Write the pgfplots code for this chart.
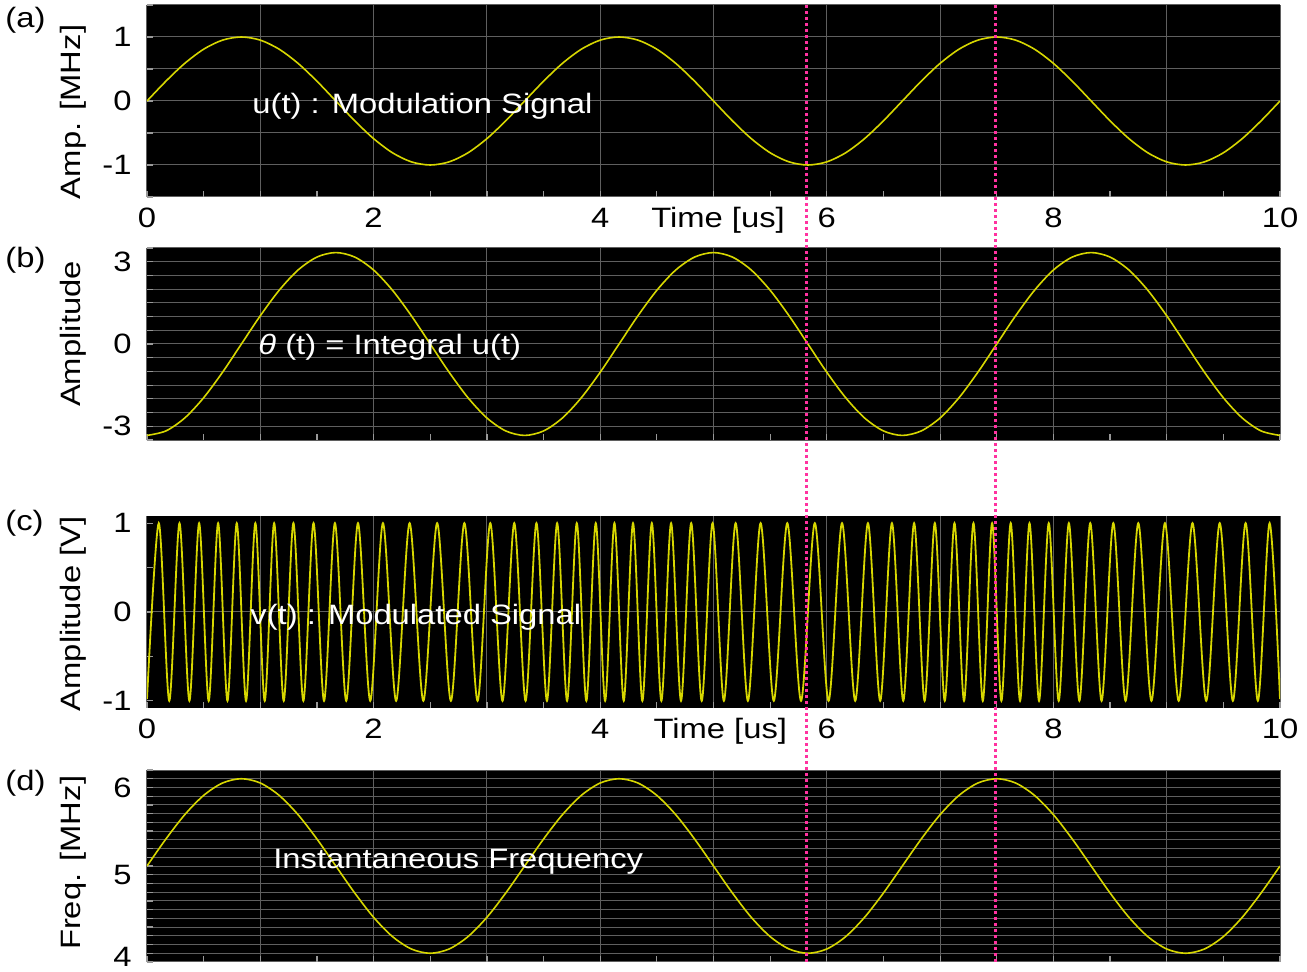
\documentclass[border=0pt]{standalone}
\usepackage{pgfplots}
\pgfplotsset{compat=1.18}
\usepackage{pgfplotstable}
\usepackage{fontspec}
\setmainfont{Liberation Sans}[FakeStretch=1.17]
\definecolor{sig}{RGB}{215,215,0}
\definecolor{gridc}{RGB}{95,95,95}
\definecolor{mag}{RGB}{255,50,160}

\pgfplotstableread{
t u th f
0 0 -3.333 5.1
0.1667 0.309 -3.170 5.409
0.3333 0.588 -2.697 5.688
0.5 0.809 -1.959 5.909
0.6667 0.951 -1.030 6.051
0.8333 1 0 6.1
1 0.951 1.030 6.051
1.1667 0.809 1.959 5.909
1.3333 0.588 2.697 5.688
1.5 0.309 3.170 5.409
1.6667 0 3.333 5.1
1.8333 -0.309 3.170 4.791
2 -0.588 2.697 4.512
2.1667 -0.809 1.959 4.291
2.3333 -0.951 1.030 4.149
2.5 -1 0 4.1
2.6667 -0.951 -1.030 4.149
2.8333 -0.809 -1.959 4.291
3 -0.588 -2.697 4.512
3.1667 -0.309 -3.170 4.791
3.3333 0 -3.333 5.1
3.5 0.309 -3.170 5.409
3.6667 0.588 -2.697 5.688
3.8333 0.809 -1.959 5.909
4 0.951 -1.030 6.051
4.1667 1 0 6.1
4.3333 0.951 1.030 6.051
4.5 0.809 1.959 5.909
4.6667 0.588 2.697 5.688
4.8333 0.309 3.170 5.409
5 0 3.333 5.1
5.1667 -0.309 3.170 4.791
5.3333 -0.588 2.697 4.512
5.5 -0.809 1.959 4.291
5.6667 -0.951 1.030 4.149
5.8333 -1 0 4.1
6 -0.951 -1.030 4.149
6.1667 -0.809 -1.959 4.291
6.3333 -0.588 -2.697 4.512
6.5 -0.309 -3.170 4.791
6.6667 0 -3.333 5.1
6.8333 0.309 -3.170 5.409
7 0.588 -2.697 5.688
7.1667 0.809 -1.959 5.909
7.3333 0.951 -1.030 6.051
7.5 1 0 6.1
7.6667 0.951 1.030 6.051
7.8333 0.809 1.959 5.909
8 0.588 2.697 5.688
8.1667 0.309 3.170 5.409
8.3333 0 3.333 5.1
8.5 -0.309 3.170 4.791
8.6667 -0.588 2.697 4.512
8.8333 -0.809 1.959 4.291
9 -0.951 1.030 4.149
9.1667 -1 0 4.1
9.3333 -0.951 -1.030 4.149
9.5 -0.809 -1.959 4.291
9.6667 -0.588 -2.697 4.512
9.8333 -0.309 -3.170 4.791
10 0 -3.333 5.1
}\slow

\pgfplotstableread{
t v
0 -0.98
0.1040 1
0.1967 -1
0.2867 1
0.3743 -1
0.4601 1
0.5444 -1
0.6277 1
0.7102 -1
0.7923 1
0.8743 -1
0.9564 1
1.0390 -1
1.1223 1
1.2066 -1
1.2924 1
1.3800 -1
1.4699 1
1.5626 -1
1.6586 1
1.7584 -1
1.8622 1
1.9703 -1
2.0826 1
2.1987 -1
2.3179 1
2.4391 -1
2.5610 1
2.6822 -1
2.8013 1
2.9175 -1
3.0298 1
3.1378 -1
3.2416 1
3.3414 -1
3.4373 1
3.5300 -1
3.6200 1
3.7076 -1
3.7934 1
3.8777 -1
3.9610 1
4.0435 -1
4.1256 1
4.2076 -1
4.2897 1
4.3723 -1
4.4556 1
4.5399 -1
4.6257 1
4.7133 -1
4.8032 1
4.8959 -1
4.9919 1
5.0917 -1
5.1955 1
5.3036 -1
5.4159 1
5.5320 -1
5.6512 1
5.7724 -1
5.8943 1
6.0155 -1
6.1346 1
6.2508 -1
6.3631 1
6.4711 -1
6.5749 1
6.6747 -1
6.7707 1
6.8634 -1
6.9534 1
7.0410 -1
7.1268 1
7.2111 -1
7.2944 1
7.3769 -1
7.4590 1
7.5410 -1
7.6231 1
7.7057 -1
7.7890 1
7.8733 -1
7.9591 1
8.0467 -1
8.1366 1
8.2293 -1
8.3253 1
8.4251 -1
8.5289 1
8.6370 -1
8.7493 1
8.8654 -1
8.9846 1
9.1058 -1
9.2277 1
9.3489 -1
9.4680 1
9.5842 -1
9.6965 1
9.8045 -1
9.9083 1
10 -0.98
}\fm

\pgfplotsset{
  panel/.style={
    scale only axis, width=566.5pt, height=96pt,
    anchor=north west, xmin=0, xmax=10,
    axis background/.style={fill=black},
    axis line style={draw=none},
    tick align=inside, tick pos=left,
    major tick length=3pt, minor tick length=3pt,
    tick style={draw=gray!80, line width=0.6pt},
    grid style={draw=gridc, line width=0.5pt},
    minor grid style={draw=gridc, line width=0.5pt},
    xtick={0,1,...,10},
    minor xtick={0.5,1.5,...,9.5},
    xmajorgrids=true,
    xticklabel style={anchor=base, yshift=-15.5pt, inner sep=0pt},
    yticklabel style={anchor=east, xshift=-7.5pt, inner sep=0pt},
    ylabel style={anchor=base, inner sep=0pt},
    xlabel style={at={(axis description cs:0.504,0)}, anchor=base, yshift=-15.5pt, inner sep=0pt},
  },
  sigline/.style={color=sig, line width=0.8pt, smooth, no markers},
}

\begin{document}
\fontsize{14}{16}\selectfont
\begin{tikzpicture}
\path[use as bounding box] (0,0) rectangle (653.5pt,-486pt);

% (a)
\begin{axis}[panel, at={(73.5pt,-2.5pt)}, ymin=-1.5, ymax=1.5,
  ytick={-1.5,-1,...,1.5}, yticklabels={,-1,,0,,1,}, ymajorgrids=true,
  xticklabels={0,,2,,4,,6,,8,,10},
  xlabel={Time [us]},
  ylabel={Amp. [MHz]}, ylabel style={at={(axis description cs:-0.0583,0.443)}}]
\addplot[sigline] table[x=t,y=u]{\slow};
\node[anchor=base west, text=white, inner sep=0pt] at (axis cs:0.927,-0.203) {u(t) : Modulation Signal};
\coordinate (m1a) at (axis cs:5.82,1.5);
\coordinate (m2a) at (axis cs:7.49,1.5);
\end{axis}

% (b)
\begin{axis}[panel, at={(73.5pt,-124pt)}, ymin=-3.5, ymax=3.5,
  ytick={-3,-2,...,3}, yticklabels={-3,,,0,,,3},
  minor ytick={-3.5,-2.5,...,3.5}, ymajorgrids=true, yminorgrids=true,
  xticklabels={},
  ylabel={Amplitude}, ylabel style={at={(axis description cs:-0.0583,0.552)}}]
\addplot[sigline] table[x=t,y=th]{\slow};
\node[anchor=base west, text=white, inner sep=0pt] at (axis cs:0.98,-0.365) {{\itshape θ} (t) = Integral u(t)};
\end{axis}

% (c)
\begin{axis}[panel, at={(73.5pt,-258pt)}, ymin=-1.08, ymax=1.08,
  ytick={-1,0,1}, yticklabels={-1,0,1}, minor ytick={-0.5,0.5},
  extra y ticks={0}, extra y tick labels={}, extra y tick style={grid=major},
  xticklabels={0,,2,,4,,6,,8,,10},
  xlabel={Time [us]}, xlabel style={at={(axis description cs:0.506,0)}},
  ylabel={Amplitude [V]}, ylabel style={at={(axis description cs:-0.0583,0.49)}}]
\addplot[sigline, line width=0.9pt] table[x=t,y=v]{\fm};
\node[anchor=base west, text=white, inner sep=0pt] at (axis cs:0.909,-0.146) {v(t) : Modulated Signal};
\end{axis}

% (d)
\begin{axis}[panel, at={(73.5pt,-385pt)}, ymin=4, ymax=6.2,
  ytick={4,5,6}, yticklabels={\raisebox{5pt}{4},5,6},
  minor ytick={4.1,4.2,...,6.2}, ymajorgrids=true, yminorgrids=true,
  xticklabels={},
  ylabel={Freq. [MHz]}, ylabel style={at={(axis description cs:-0.0583,0.516)}}]
\addplot[sigline] table[x=t,y=f]{\slow};
\node[anchor=base west, text=white, inner sep=0pt] at (axis cs:1.112,5.077) {Instantaneous Frequency};
\coordinate (m1d) at (axis cs:5.82,4);
\coordinate (m2d) at (axis cs:7.49,4);
\end{axis}

\draw[mag, line width=1.3pt, dash pattern=on 1.3pt off 1.7pt] (m1a) -- (m1d);
\draw[mag, line width=1.3pt, dash pattern=on 1.3pt off 1.7pt] (m2a) -- (m2d);

\node[anchor=base west, inner sep=0pt] at (2.5pt,-14pt) {(a)};
\node[anchor=base west, inner sep=0pt] at (2.5pt,-134pt) {(b)};
\node[anchor=base west, inner sep=0pt] at (2.5pt,-265.5pt) {(c)};
\node[anchor=base west, inner sep=0pt] at (2.5pt,-395.5pt) {(d)};
\end{tikzpicture}
\end{document}
